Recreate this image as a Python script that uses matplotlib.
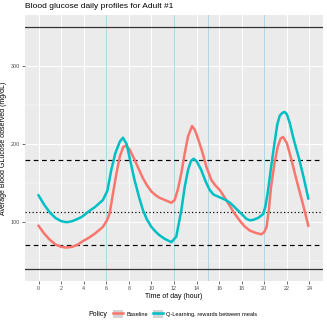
import matplotlib
matplotlib.use("Agg")
import matplotlib.pyplot as plt
from matplotlib.lines import Line2D
from matplotlib.patches import Rectangle

# Perfiles diarios de glucosa
t_base = [0, 0.5, 1.0, 1.5, 2.0, 2.45, 3.0, 3.5, 3.9, 4.5, 5.0, 5.7, 6.06, 6.3, 6.6,
          6.9, 7.2, 7.5, 7.77, 8.1, 8.5, 8.9, 9.25, 9.6, 10.0, 10.35, 10.7, 11.2,
          11.76, 12.06, 12.35, 12.65, 12.95, 13.25, 13.6, 13.85, 14.1, 14.5, 14.86,
          15.3, 15.65, 16.05, 16.5, 16.9, 17.3, 17.8, 18.2, 18.7, 19.2, 19.74, 20.0,
          20.2, 20.4, 20.6, 20.9, 21.2, 21.45, 21.66, 22.0, 22.4, 22.85, 23.4, 23.9]
g_base = [95, 85, 77, 71, 68, 67, 68, 71, 75, 80, 85, 93.5, 102, 111, 137,
          162, 184, 196, 198, 192, 180, 167, 156, 147, 139, 134.5, 131, 128,
          124.5, 128, 142, 162.5, 188, 210, 223, 218, 208, 190, 171,
          154, 147, 141, 131, 121.6, 112, 102, 95, 89, 86, 84, 87,
          93.5, 115, 145, 175, 197, 207, 209, 201, 180, 154, 124, 95]

t_ql = [0, 0.5, 1.0, 1.5, 2.0, 2.5, 3.0, 3.5, 3.9, 4.4, 5.0, 5.7, 6.1, 6.45, 6.8,
        7.2, 7.48, 7.8, 8.1, 8.5, 8.9, 9.25, 9.6, 10.0, 10.4, 10.7, 11.2, 11.76,
        12.2, 12.65, 12.95, 13.25, 13.5, 13.74, 14.0, 14.4, 14.8, 15.16, 15.5,
        16.05, 16.6, 17.0, 17.5, 18.0, 18.4, 18.7, 19.0, 19.45, 19.9, 20.1, 20.3,
        20.6, 20.9, 21.15, 21.36, 21.6, 21.8, 22.0, 22.25, 22.6, 23.1, 23.5, 23.9]
g_ql = [134, 122, 112, 105, 101, 99.5, 101, 104, 107, 113, 119, 128, 140, 167, 188,
        203, 208, 200, 180, 154, 132, 115, 103, 93.5, 87, 83, 78, 74,
        81, 115, 145, 167, 178, 181, 178, 167, 152, 141, 135,
        131.5, 128, 124, 117, 110, 104, 102, 102.5, 105, 110, 120, 137,
        170, 201, 225, 236, 240, 241, 238, 227, 206, 180, 156, 130]

comidas = [6, 12, 15, 20]          # horas de comida
limites_solidos = [40, 350]
limites_dash = [70, 180]
objetivo = 112.5

x_breaks = list(range(0, 25, 2))
y_breaks = [100, 200, 300]
y_minor = [50, 150, 250, 350]

rojo = "#F8766D"
turquesa = "#00BFC4"
gris_txt = "#4D4D4D"

plt.rcParams["font.family"] = ["Liberation Sans", "DejaVu Sans"]

fig = plt.figure(figsize=(3.27, 3.27), dpi=100)
ax = fig.add_axes([25 / 327, 1 - 280.7 / 327, 298 / 327, 265.7 / 327])
ax.set_facecolor("#EBEBEB")

for y in y_minor:
    ax.axhline(y, color="white", lw=0.35, zorder=0)
for y in y_breaks:
    ax.axhline(y, color="white", lw=0.75, zorder=0)
for x in x_breaks:
    ax.axvline(x, color="white", lw=0.75, zorder=0)

for x in comidas:
    ax.axvline(x, color="lightblue", lw=0.7, zorder=1)
for y in limites_solidos:
    ax.axhline(y, color="#333333", lw=0.9, zorder=2)
for y in limites_dash:
    ax.axhline(y, color="black", lw=0.85, ls=(0, (4, 3)), zorder=2)
ax.axhline(objetivo, color="black", lw=0.85, ls=(0, (1, 2)), zorder=2)

ax.plot(t_base, g_base, color=rojo, lw=1.8, zorder=3, solid_joinstyle="round")
ax.plot(t_ql, g_ql, color=turquesa, lw=1.8, zorder=3, solid_joinstyle="round")

ax.set_xlim(-1.2, 25.2)
ax.set_ylim(24.5, 365.5)
ax.set_xticks(x_breaks)
ax.set_yticks(y_breaks)
ax.tick_params(axis="both", labelsize=3.9, labelcolor=gris_txt, color="#333333",
               length=2, width=0.5, pad=1.5)
for s in ax.spines.values():
    s.set_visible(False)

ax.set_xlabel("Time of day (hour)", fontsize=5, labelpad=2)
ax.set_ylabel("Average Blood GLucose observed (mg/dL)", fontsize=5, labelpad=2.5)
fig.text(25 / 327, 1 - 7 / 327, "Blood glucose daily profiles for Adult #1",
         fontsize=6, ha="left", va="center")

# Leyenda inferior
fondo = Rectangle((0, 0), 1, 1, facecolor="#D4D4D4", edgecolor="none")
h1 = (fondo, Line2D([], [], color=rojo, lw=1.8))
h2 = (fondo, Line2D([], [], color=turquesa, lw=1.8))
fig.text(88 / 327, 1 - 314.3 / 327, "Policy", fontsize=5, ha="left", va="center")
fig.legend([h1, h2], ["Baseline", "Q-Learning, rewards between meals"],
           loc="center", bbox_to_anchor=(185 / 327, 1 - 314.3 / 327), ncol=2,
           frameon=False, fontsize=4.1, handlelength=1.8, handleheight=1.8,
           handletextpad=0.5, columnspacing=0.8, borderpad=0)

fig.savefig("out.png", dpi=100)
